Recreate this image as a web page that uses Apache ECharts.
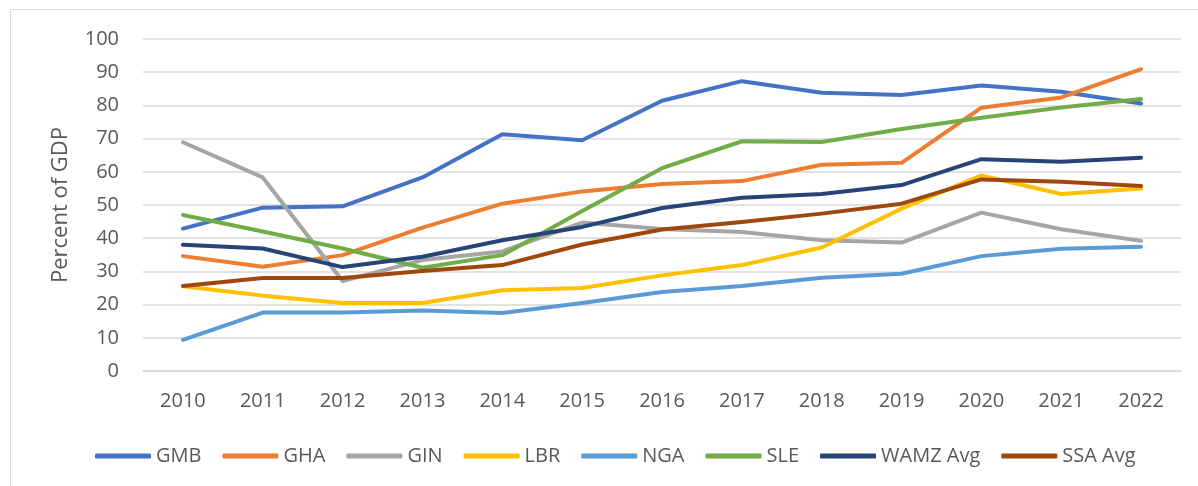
<!DOCTYPE html>
<html>
<head>
<meta charset="utf-8">
<script src="https://cdn.jsdelivr.net/npm/echarts@6/dist/echarts.min.js"></script>
<style>
  html, body { margin: 0; padding: 0; background: #fff; }
  #chart { width: 1198px; height: 486px; }
</style>
</head>
<body>
<div id="chart"></div>
<script>
// years on the x axis
const years = ['2010', '2011', '2012', '2013', '2014', '2015', '2016', '2017', '2018', '2019', '2020', '2021', '2022'];

// percent of GDP
const gmb  = [42.9, 49.2, 49.6, 58.3, 71.3, 69.5, 81.4, 87.3, 83.8, 83.1, 86.0, 84.1, 80.6];
const gha  = [34.6, 31.4, 34.9, 43.2, 50.4, 54.1, 56.3, 57.2, 62.1, 62.7, 79.3, 82.4, 90.9];
const gin  = [68.9, 58.3, 27.1, 33.4, 36.0, 44.7, 42.8, 41.9, 39.4, 38.7, 47.7, 42.7, 39.2];
const lbr  = [25.5, 22.7, 20.5, 20.5, 24.3, 25.0, 28.8, 31.9, 37.2, 48.9, 58.9, 53.3, 55.0];
const nga  = [9.4, 17.6, 17.6, 18.2, 17.5, 20.5, 23.8, 25.6, 28.1, 29.3, 34.6, 36.8, 37.4];
const sle  = [47.0, 42.0, 36.9, 31.1, 34.9, 48.2, 61.1, 69.2, 69.0, 72.9, 76.3, 79.4, 81.9];
const wamz = [38.0, 36.9, 31.3, 34.4, 39.4, 43.4, 49.1, 52.2, 53.3, 56.0, 63.8, 63.0, 64.2];
const ssa  = [25.6, 28.0, 28.0, 30.1, 31.9, 38.1, 42.6, 44.9, 47.4, 50.4, 57.7, 57.0, 55.7];

const names  = ['GMB', 'GHA', 'GIN', 'LBR', 'NGA', 'SLE', 'WAMZ Avg', 'SSA Avg'];
const colors = ['#4472C4', '#ED7D31', '#A5A5A5', '#FFC000', '#5B9BD5', '#70AD47', '#264478', '#9E480E'];
const values = [gmb, gha, gin, lbr, nga, sle, wamz, ssa];

const font = '"Open Sans", "Liberation Sans", sans-serif';

const myChart = echarts.init(document.getElementById('chart'));
myChart.setOption({
  animation: false,
  color: colors,
  textStyle: { fontFamily: font },
  graphic: [{
    type: 'rect',
    shape: { x: 10.5, y: 9.5, width: 1300, height: 600 },
    style: { fill: 'none', stroke: '#d9d9d9', lineWidth: 1 },
    silent: true
  }],
  grid: { left: 143, right: 17, top: 39, bottom: 115 },
  legend: {
    left: 90,
    top: 441,
    icon: 'roundRect',
    itemWidth: 56,
    itemHeight: 5,
    itemGap: 21,
    textStyle: { color: '#595959', fontSize: 20, fontFamily: font },
    data: names
  },
  xAxis: {
    type: 'category',
    data: years,
    axisLine: { lineStyle: { color: '#d9d9d9', width: 1.5 } },
    axisTick: { show: false },
    axisLabel: { color: '#595959', fontSize: 20, margin: 20, fontFamily: font }
  },
  yAxis: {
    type: 'value',
    min: 0,
    max: 100,
    interval: 10,
    name: 'Percent of GDP',
    nameLocation: 'middle',
    nameGap: 71,
    nameTextStyle: { color: '#595959', fontSize: 22, fontFamily: font },
    axisLine: { show: false },
    axisTick: { show: false },
    axisLabel: { color: '#595959', fontSize: 20, margin: 24, fontFamily: font },
    splitLine: { lineStyle: { color: '#d9d9d9', width: 1.5 } }
  },
  series: names.map((n, i) => ({
    name: n,
    type: 'line',
    data: values[i],
    showSymbol: false,
    symbol: 'none',
    lineStyle: { width: 4, color: colors[i], cap: 'round', join: 'round' }
  }))
});
</script>
</body>
</html>
